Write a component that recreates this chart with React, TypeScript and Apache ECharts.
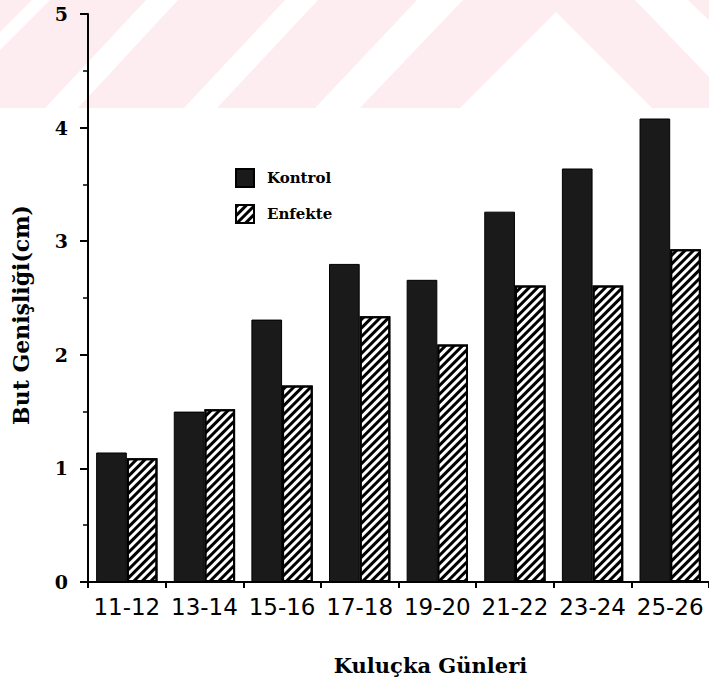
import React, { useEffect, useRef } from "react";
import * as echarts from "echarts";

const categories = ["11-12", "13-14", "15-16", "17-18", "19-20", "21-22", "23-24", "25-26"];
const kontrol = [1.14, 1.5, 2.31, 2.8, 2.66, 3.26, 3.64, 4.08];
const enfekte = [1.09, 1.52, 1.73, 2.34, 2.09, 2.61, 2.61, 2.93];
const seriesNames = ["Kontrol", "Enfekte"];
const yAxisTitle = "But Genişliği(cm)";
const xAxisTitle = "Kuluçka Günleri";

const PINK = "#fdedf0";

export default function App() {
  const ref = useRef<HTMLDivElement>(null);
  useEffect(() => {
    if (!ref.current) return;
    const chart = echarts.init(ref.current, null, { renderer: "svg" });
    const white = { fill: "#ffffff" };
    chart.setOption({
      animation: false,
      backgroundColor: "#ffffff",
      graphic: [
        { type: "rect", z: -10, silent: true, shape: { x: 0, y: 0, width: 709, height: 108 }, style: { fill: PINK } },
        { type: "polygon", z: -9, silent: true, shape: { points: [[32, 0], [50, 0], [-58, 108], [-76, 108]] }, style: white },
        { type: "polygon", z: -9, silent: true, shape: { points: [[146, 0], [178, 0], [78, 108], [45, 108]] }, style: white },
        { type: "polygon", z: -9, silent: true, shape: { points: [[285, 0], [318, 0], [217, 108], [184, 108]] }, style: white },
        { type: "polygon", z: -9, silent: true, shape: { points: [[417, 0], [463, 0], [360, 108], [315, 108]] }, style: white },
        { type: "polygon", z: -9, silent: true, shape: { points: [[556, 12], [652, 108], [460, 108]] }, style: white },
        { type: "polygon", z: -9, silent: true, shape: { points: [[635, 0], [688, 0], [709, 20], [709, 77]] }, style: white },
      ],
      legend: {
        orient: "vertical",
        left: 230,
        top: 163,
        itemWidth: 18,
        itemHeight: 18,
        itemGap: 16,
        icon: "rect",
        data: seriesNames,
        textStyle: { fontFamily: "DejaVu Serif", fontWeight: "bold", fontSize: 15, color: "#000", padding: [0, 0, 0, 8] },
      },
      grid: { left: 88, right: -7, top: 14, bottom: 111 },
      xAxis: {
        type: "category",
        data: categories,
        name: xAxisTitle,
        nameLocation: "middle",
        nameGap: 73,
        nameTextStyle: { fontFamily: "DejaVu Serif", fontWeight: "bold", fontSize: 21, color: "#000", padding: [0, 0, 0, 64] },
        axisLine: { show: true, lineStyle: { color: "#000", width: 2 } },
        axisTick: { show: true, length: 6, lineStyle: { color: "#000", width: 2 } },
        axisLabel: { fontFamily: "DejaVu Sans", fontSize: 23, color: "#000", margin: 13, interval: 0 },
      },
      yAxis: {
        type: "value",
        min: 0,
        max: 5,
        interval: 1,
        name: yAxisTitle,
        nameLocation: "middle",
        nameGap: 56,
        nameRotate: 90,
        nameTextStyle: { fontFamily: "DejaVu Serif", fontWeight: "bold", fontSize: 22, color: "#000", padding: [0, 34, 0, 0] },
        splitLine: { show: false },
        axisLine: { show: true, lineStyle: { color: "#000", width: 2 } },
        axisTick: { show: true, length: 8, lineStyle: { color: "#000", width: 2 } },
        minorTick: { show: true, splitNumber: 2, length: 5, lineStyle: { color: "#000", width: 1.5 } },
        axisLabel: { fontFamily: "DejaVu Serif", fontWeight: "bold", fontSize: 19, color: "#000", margin: 20 },
      },
      series: [
        {
          name: seriesNames[0],
          type: "bar",
          data: kontrol,
          barGap: "0%",
          barCategoryGap: "21%",
          itemStyle: { color: "#1a1a1a", borderColor: "#000", borderWidth: 1 },
        },
        {
          name: seriesNames[1],
          type: "bar",
          data: enfekte,
          barGap: "0%",
          barCategoryGap: "21%",
          itemStyle: {
            color: "#ffffff",
            borderColor: "#000",
            borderWidth: 2,
            decal: {
              symbol: "rect",
              symbolSize: 1,
              color: "#000",
              dashArrayX: [1, 0],
              dashArrayY: [3, 3],
              rotation: -Math.PI / 4,
            },
          },
        },
      ],
    });
    return () => chart.dispose();
  }, []);
  return <div ref={ref} style={{ position: "absolute", left: 0, top: 0, width: 709, height: 693 }} />;
}
